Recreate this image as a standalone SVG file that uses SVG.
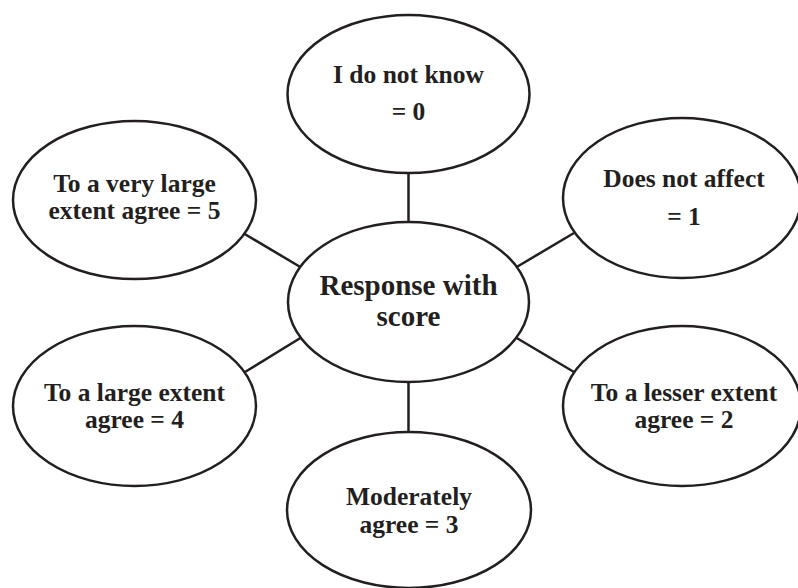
<svg xmlns="http://www.w3.org/2000/svg" width="798" height="588" viewBox="0 0 798 588">
<style>
.node{fill:#fff;stroke:#231f20;stroke-width:2.5}
.edge{stroke:#231f20;stroke-width:2.5;fill:none}
.t{font-family:'Liberation Serif','DejaVu Serif',serif;font-weight:bold;fill:#231f20;text-anchor:middle;font-size:25.5px}
.c{font-size:29px}
</style>
<rect width="798" height="588" fill="#fff"/>
<g id="connectors">
<line class="edge" x1="408.5" y1="172" x2="408.5" y2="223"/>
<line class="edge" x1="408.5" y1="381" x2="408.5" y2="433"/>
<line class="edge" x1="243" y1="233" x2="302" y2="268"/>
<line class="edge" x1="515" y1="268" x2="574" y2="233"/>
<line class="edge" x1="245" y1="372" x2="302" y2="337"/>
<line class="edge" x1="515" y1="337" x2="574" y2="372"/>
</g>
<g id="center">
<ellipse class="node" cx="408.5" cy="302" rx="120.5" ry="80"/>
<text class="t c" x="408.5" y="295" font-family="Liberation Serif, serif">Response with</text>
<text class="t c" x="408.5" y="326" font-family="Liberation Serif, serif">score</text>
</g>
<g id="n0">
<ellipse class="node" cx="408.5" cy="94" rx="121" ry="79"/>
<text class="t" x="408.5" y="83">I do not know</text>
<text class="t" x="408.5" y="120">= 0</text>
</g>
<g id="n1">
<ellipse class="node" cx="682" cy="198" rx="119" ry="80"/>
<text class="t" x="684" y="187">Does not affect</text>
<text class="t" x="684" y="225">= 1</text>
</g>
<g id="n2">
<ellipse class="node" cx="682" cy="406" rx="119" ry="80"/>
<text class="t" x="684" y="401">To a lesser extent</text>
<text class="t" x="684" y="428">agree = 2</text>
</g>
<g id="n3">
<ellipse class="node" cx="409" cy="510" rx="122" ry="78"/>
<text class="t" x="409" y="505">Moderately</text>
<text class="t" x="409" y="533">agree = 3</text>
</g>
<g id="n4">
<ellipse class="node" cx="134.5" cy="406" rx="121.5" ry="80"/>
<text class="t" x="134.5" y="401">To a large extent</text>
<text class="t" x="134.5" y="428">agree = 4</text>
</g>
<g id="n5">
<ellipse class="node" cx="134.5" cy="200" rx="121.5" ry="79"/>
<text class="t" x="134.5" y="192">To a very large</text>
<text class="t" x="134.5" y="219">extent agree = 5</text>
</g>
</svg>
